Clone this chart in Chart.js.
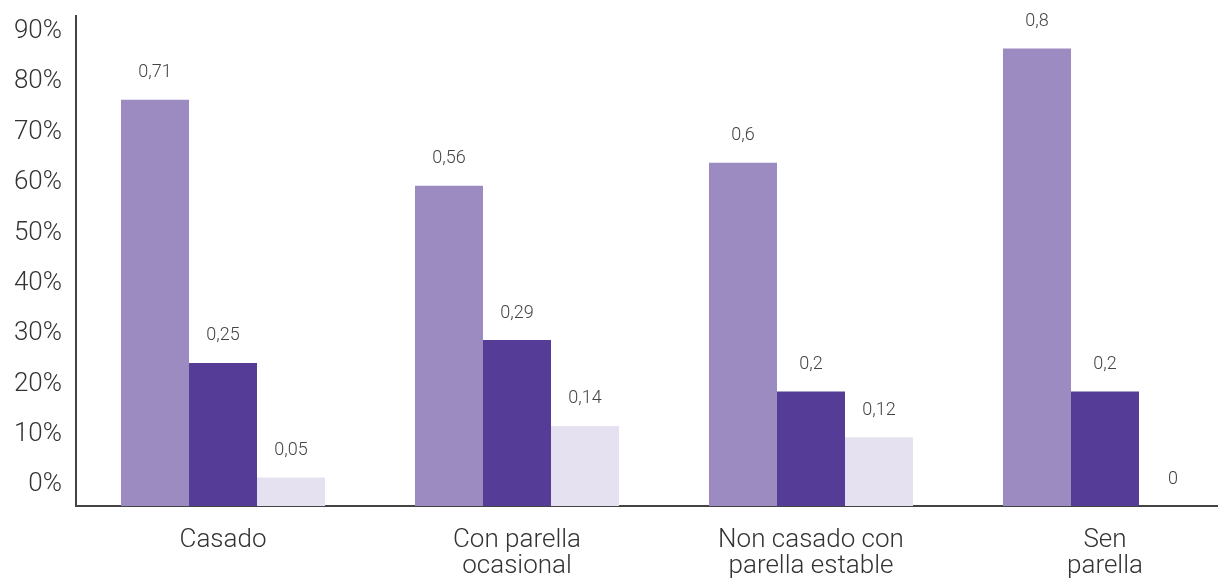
<!DOCTYPE html>
<html>
<head>
<meta charset="utf-8">
<script src="https://cdn.jsdelivr.net/npm/chart.js@4"></script>
<style>
  html, body { margin: 0; padding: 0; overflow: hidden; background: #fff; }
  #wrap { width: 1252px; height: 579px; }
</style>
</head>
<body>
<div id="wrap"><canvas id="chart"></canvas></div>
<script>
// chart data
const categories = ['Casado', ['Con parella', 'ocasional'], ['Non casado con', 'parella estable'], ['Sen', 'parella']];
const seriesA = [0.71, 0.56, 0.6, 0.8];
const seriesB = [0.25, 0.29, 0.2, 0.2];
const seriesC = [0.05, 0.14, 0.12, 0];
const tickLabels = ['0%', '10%', '20%', '30%', '40%', '50%', '60%', '70%', '80%', '90%'];

const font = 'Roboto';

// value labels above every bar, written with a decimal comma
const valueLabels = {
    id: 'valueLabels',
    afterDatasetsDraw(chart) {
        const ctx = chart.ctx;
        ctx.save();
        ctx.font = '300 18px ' + font;
        ctx.fillStyle = '#444';
        ctx.textAlign = 'center';
        ctx.textBaseline = 'middle';
        chart.data.datasets.forEach((ds, i) => {
            chart.getDatasetMeta(i).data.forEach((bar, j) => {
                ctx.fillText(String(ds.data[j]).replace('.', ','), bar.x, bar.y - 27);
            });
        });
        ctx.restore();
    }
};

// no extra room for labels that hang over the plot edges
const noEdgePadding = scale => {
    scale.paddingTop = 0;
    scale.paddingBottom = 0;
    scale.paddingLeft = 0;
    scale.paddingRight = 0;
};

new Chart(document.getElementById('chart'), {
    type: 'bar',
    data: {
        labels: categories,
        datasets: [
            { label: 'A', data: seriesA, backgroundColor: '#9b8bc0' },
            { label: 'B', data: seriesB, backgroundColor: '#553c96' },
            { label: 'C', data: seriesC, backgroundColor: '#e5e1f1' }
        ]
    },
    options: {
        responsive: true,
        maintainAspectRatio: false,
        animation: false,
        layout: { padding: { top: 16, left: 0, right: 0, bottom: 0 } },
        datasets: { bar: { categoryPercentage: 0.694, barPercentage: 1 } },
        plugins: { legend: { display: false }, tooltip: { enabled: false } },
        scales: {
            x: {
                grid: { display: false, drawTicks: false },
                border: { display: true, color: '#444', width: 2 },
                afterFit: scale => { noEdgePadding(scale); scale.height = 73; },
                ticks: { color: '#333', padding: 21, maxRotation: 0, autoSkip: false, font: { family: font, size: 26, weight: '300', lineHeight: 1.0 } }
            },
            y: {
                display: false,
                min: 0,
                max: 0.8566
            },
            yl: {
                position: 'left',
                min: -4.17,
                max: 93.1,
                grid: { display: false, drawTicks: false },
                border: { display: true, color: '#444', width: 2 },
                afterBuildTicks: scale => { scale.ticks = tickLabels.map(t => ({ value: parseFloat(t) })); },
                afterFit: scale => { noEdgePadding(scale); scale.width = 76; },
                ticks: { color: '#333', padding: 14, callback: v => v + '%', font: { family: font, size: 26, weight: '300' } }
            }
        }
    },
    plugins: [valueLabels]
});
</script>
</body>
</html>
